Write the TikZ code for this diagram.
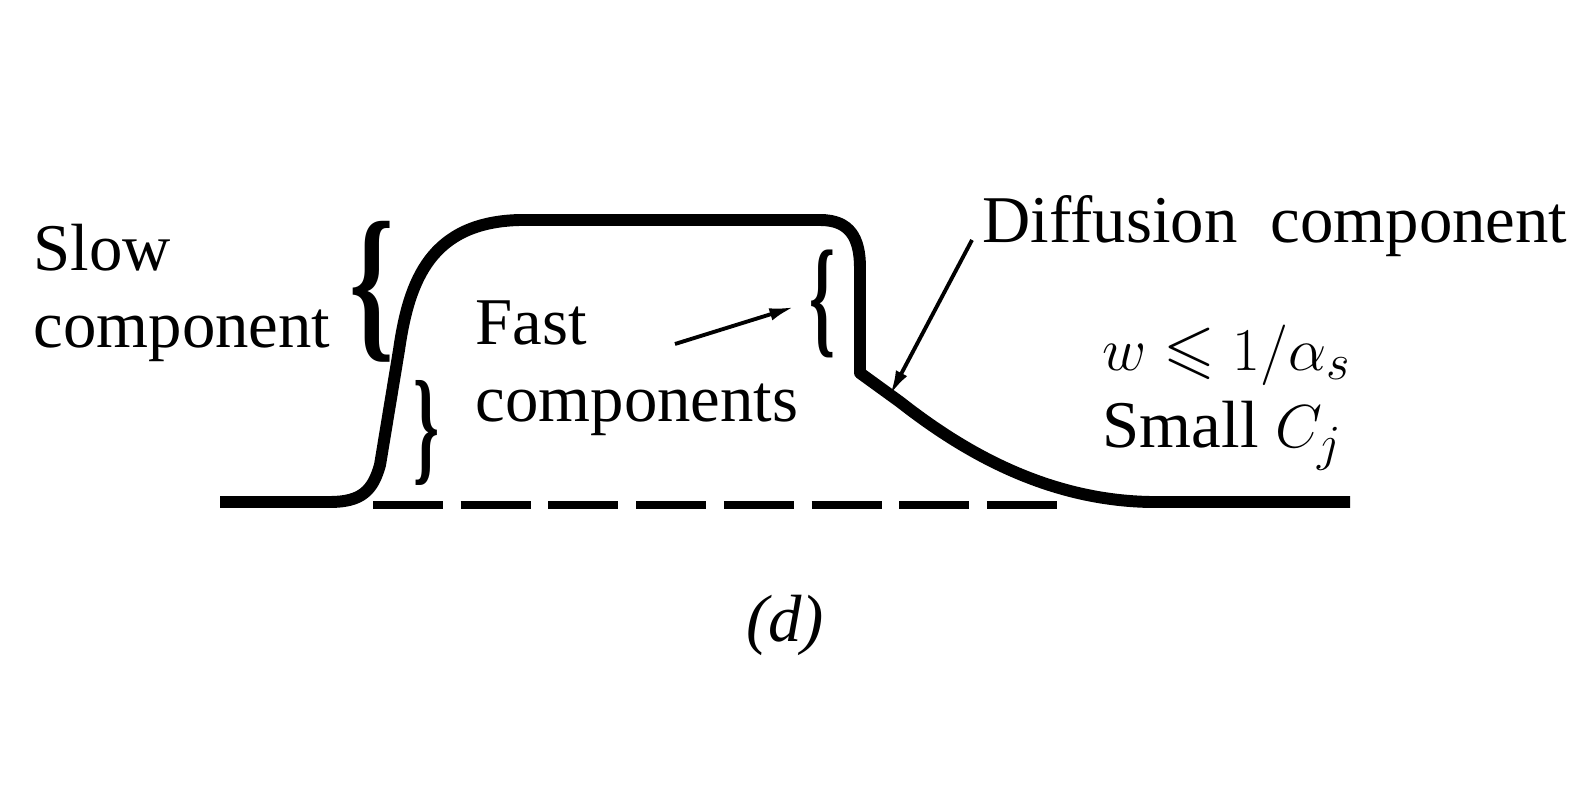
\documentclass[tikz,border=0pt]{standalone}
\usepackage{amssymb}
\usepackage{graphicx}
\usepackage{fontspec}
\setmainfont{Liberation Serif}
\usepackage{tikz}
\usetikzlibrary{arrows.meta}
\def\tallbrace(#1:#2)#3{\resizebox*{#1}{#2}{\textbf{#3}}}% Syntax: (width:height) {glyph}

\begin{document}
\begin{tikzpicture}[
  pulse/.style={line width=3.4pt, line join=round},
  ref/.style={line width=2pt, dash pattern=on 0.70cm off 0.177cm},
  pointer/.style={line width=1.1pt, -{Latex[length=7pt,width=3.6pt]}},
  lbl/.style={inner sep=0pt, font=\fontsize{19}{22}\selectfont, align=left},
  brc/.style={inner sep=0pt, font=\fontsize{19}{22}\selectfont}]
   \useasboundingbox (0,0) rectangle (15.91,8);

   % the pulse
   \draw[pulse] (2.20,2.98) -- (3.30,2.98) .. controls (3.62,2.98) and (3.73,3.10) .. (3.80,3.35)
      -- (3.99,4.50) .. controls (4.09,5.20) and (4.31,5.78) .. (5.20,5.80)
      -- (8.20,5.80) .. controls (8.50,5.80) and (8.60,5.62) .. (8.60,5.32)
      -- (8.60,4.27) -- (9.00,3.98) .. controls (9.55,3.55) and (10.40,3.00) .. (11.50,2.98)
      -- (13.50,2.98);
   \draw[ref] (3.73,2.95) -- (10.57,2.95);

   % braces
   \node[brc] (slowbrace) at (3.72,5.08) {\tallbrace(0.45cm:1.41cm){\{}};
   \node[brc] (fastbraceL) at (4.26,3.67) {\tallbrace(0.26cm:1.05cm){\}}};
   \node[brc] (fastbraceR) at (8.22,4.96) {\tallbrace(0.26cm:1.08cm){\{}};

   % labels (base = last line)
   \node[lbl, anchor=base west] (slow) at (0.33,4.52) {Slow\\component};
   \node[lbl, anchor=base west] (fast) at (4.75,3.78) {Fast\\components};
   \node[lbl, anchor=base west] (diff) at (9.82,5.57) {Diffusion\ \ component};
   \node[lbl, anchor=base west] (cond) at (11.02,3.52) {$w\leqslant 1/\alpha_s$\\Small $C_j$};
   \node[lbl, anchor=base] (caption) at (7.85,1.58) {\textit{(d)}};

   % pointers
   \coordinate (fasttail) at (6.75,4.56);
   \coordinate (fasthead) at (7.94,4.93);
   \draw[pointer] (fasttail) -- (fasthead);
   \coordinate (difftail) at (9.72,5.60);
   \coordinate (diffhead) at (8.90,4.05);
   \draw[pointer] (difftail) -- (diffhead);
\end{tikzpicture}
\end{document}
